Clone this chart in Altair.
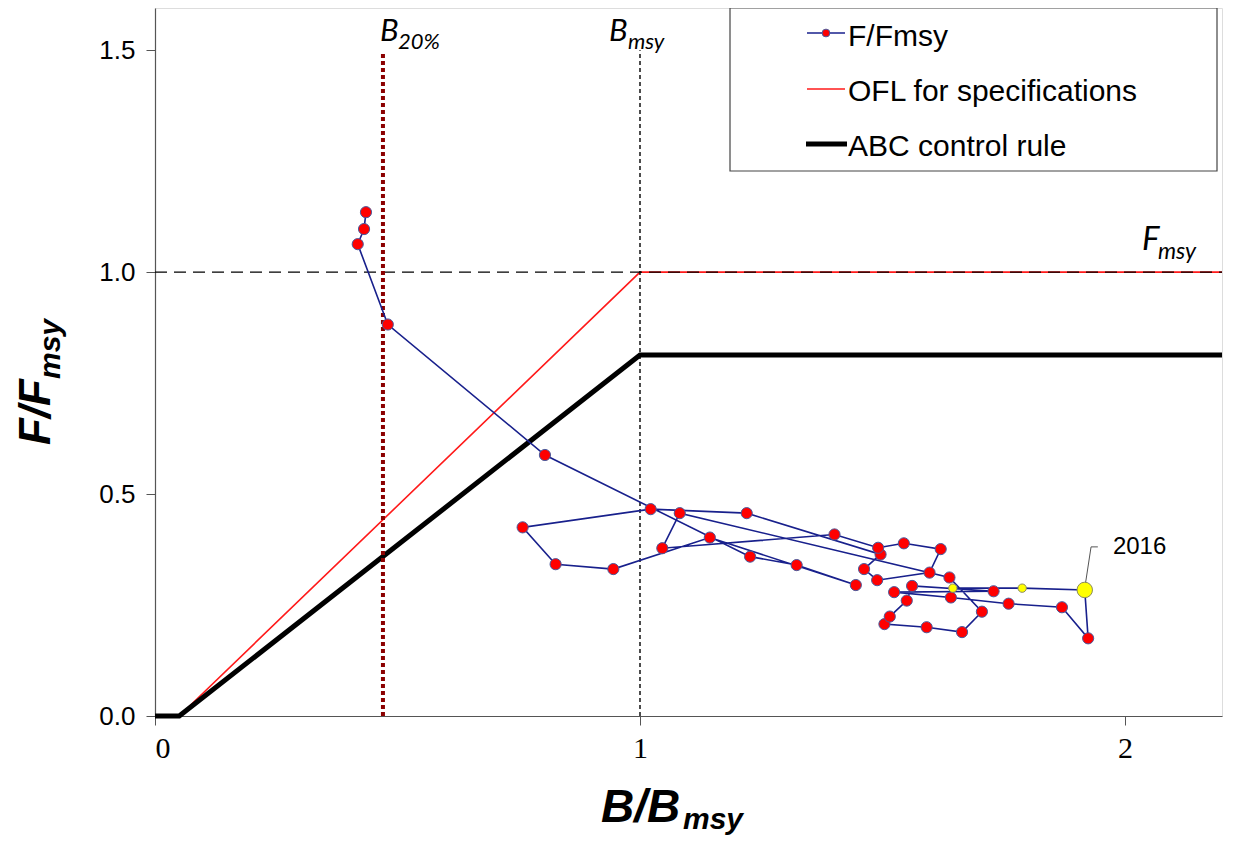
import altair as alt
import pandas as pd

# ---------------- data ----------------
years = list(range(1978, 2019))
b_ratio = [0.435, 0.431, 0.418, 0.480, 0.804, 1.227, 1.323, 1.445, 1.144, 0.945,
           0.826, 0.758, 1.022, 1.220, 1.496, 1.462, 1.489, 1.597, 1.620, 1.544,
           1.491, 1.401, 1.046, 1.082, 1.638, 1.705, 1.664, 1.591, 1.504, 1.515,
           1.550, 1.561, 1.729, 1.524, 1.641, 1.760, 1.870, 1.924, 1.917, 1.788,
           1.645]
f_ratio = [1.135, 1.097, 1.063, 0.882, 0.588, 0.359, 0.340, 0.295, 0.402, 0.331,
           0.342, 0.425, 0.466, 0.457, 0.364, 0.331, 0.306, 0.323, 0.376, 0.389,
           0.379, 0.409, 0.378, 0.457, 0.312, 0.235, 0.189, 0.200, 0.207, 0.224,
           0.260, 0.293, 0.281, 0.279, 0.267, 0.253, 0.245, 0.175, 0.284, 0.288,
           0.288]
kind = ["hist"] * 38 + ["current"] + ["proj"] * 2

ofl_b = [0.0, 0.05, 1.0, 2.2]
ofl_f = [0.0, 0.0, 1.0, 1.0]
abc_b = [0.0, 0.05, 1.0, 2.2]
abc_f = [0.0, 0.0, 0.813, 0.813]

b20 = 0.47
bmsy = 1.0
fmsy = 1.0
x_max = 2.2
y_max = 1.595

leader_b = [1.918, 1.930, 1.944]
leader_f = [0.295, 0.381, 0.381]

traj = pd.DataFrame({"year": years, "B": b_ratio, "F": f_ratio, "kind": kind})
ofl = pd.DataFrame({"B": ofl_b, "F": ofl_f, "i": range(len(ofl_b))})
abc = pd.DataFrame({"B": abc_b, "F": abc_f, "i": range(len(abc_b))})
leader = pd.DataFrame({"B": leader_b, "F": leader_f, "i": range(len(leader_b))})

W, H = 1067, 708

xs = alt.Scale(domain=[0, x_max], nice=False, zero=False)
ys = alt.Scale(domain=[0, y_max], nice=False, zero=False)

x_axis = alt.Axis(values=[0, 1, 2], format="d", title=None, grid=False,
                  labelFont="Liberation Sans Narrow", labelFontSize=30,
                  labelColor="black", tickSize=9, labelPadding=8,
                  domainColor="#555", tickColor="#555", domainWidth=1.2)
y_axis = alt.Axis(values=[0, 0.5, 1.0, 1.5], format=".1f", title=None, grid=False,
                  labelFont="Liberation Sans", labelFontSize=26,
                  labelColor="black", tickSize=9, labelPadding=11,
                  domainColor="#555", tickColor="#555", domainWidth=1.2)

base_x = alt.X("B:Q", scale=xs, axis=x_axis)
base_y = alt.Y("F:Q", scale=ys, axis=y_axis)

ofl_line = alt.Chart(ofl).mark_line(color="#ff1a1a", strokeWidth=1.6).encode(
    x=base_x, y=base_y, order="i:O")
abc_line = alt.Chart(abc).mark_line(color="black", strokeWidth=5).encode(
    x="B:Q", y="F:Q", order="i:O")

one = pd.DataFrame({"v": [0]})

fmsy_rule = alt.Chart(pd.DataFrame({"x1": [0.0], "x2": [x_max], "y": [fmsy]})).mark_rule(
    color="black", strokeWidth=1.4, strokeDash=[12, 7]).encode(
    x=alt.X("x1:Q"), x2="x2:Q", y=alt.Y("y:Q"))
bmsy_rule = alt.Chart(pd.DataFrame({"x": [bmsy], "y1": [0.0], "y2": [1.5]})).mark_rule(
    color="black", strokeWidth=1.4, strokeDash=[4, 3]).encode(
    x="x:Q", y="y1:Q", y2="y2:Q")
b20_rule = alt.Chart(pd.DataFrame({"x": [b20], "y1": [0.0], "y2": [1.495]})).mark_rule(
    color="#8b0000", strokeWidth=4, strokeDash=[4, 3]).encode(
    x="x:Q", y="y1:Q", y2="y2:Q")

traj_line = alt.Chart(traj).mark_line(color="#18208c", strokeWidth=1.6).encode(
    x="B:Q", y="F:Q", order="year:O")
pts_hist = alt.Chart(traj).transform_filter(alt.datum.kind == "hist").mark_point(
    filled=True, opacity=1, fill="#ff0000", stroke="#4a5a9c", strokeWidth=1, size=125,
    shape="circle").encode(x="B:Q", y="F:Q")
pts_cur = alt.Chart(traj).transform_filter(alt.datum.kind == "current").mark_point(
    filled=True, opacity=1, fill="#ffff00", stroke="#8a8a60", strokeWidth=1, size=240,
    shape="circle").encode(x="B:Q", y="F:Q")
pts_proj = alt.Chart(traj).transform_filter(alt.datum.kind == "proj").mark_point(
    filled=True, opacity=1, fill="#ffff00", stroke="#8a8a60", strokeWidth=1, size=70,
    shape="circle").encode(x="B:Q", y="F:Q")

leader_line = alt.Chart(leader).mark_line(color="#555", strokeWidth=1).encode(
    x="B:Q", y="F:Q", order="i:O")
label_2016 = alt.Chart(pd.DataFrame({"B": [1.975], "F": [0.381], "t": ["2016"]})).mark_text(
    align="left", baseline="middle", font="Liberation Sans", fontSize=24, color="black").encode(
    x="B:Q", y="F:Q", text="t:N")

# reference-line labels (main letter + subscript)
ref_labels = pd.DataFrame({
    "B": [0.464, 0.501, 0.936, 0.975, 2.035, 2.068],
    "F": [1.520, 1.503, 1.520, 1.503, 1.050, 1.030],
    "t": ["B", "20%", "B", "msy", "F", "msy"],
    "s": [31, 22, 31, 22, 33, 23],
})
ref_text = alt.Chart(ref_labels).mark_text(
    align="left", baseline="alphabetic", font="Lato", fontStyle="italic", color="black").encode(
    x="B:Q", y="F:Q", text="t:N", size=alt.Size("s:Q", scale=None, legend=None))

# ---------------- legend (drawn in pixel space) ----------------
legend_box = alt.Chart(one).mark_rect(fill="white", stroke="#444", strokeWidth=1.2).encode(
    x=alt.value(575), x2=alt.value(1062), y=alt.value(0), y2=alt.value(163))
leg_l1 = alt.Chart(one).mark_rule(color="#18208c", strokeWidth=1.6).encode(
    x=alt.value(652), x2=alt.value(690), y=alt.value(25))
leg_p1 = alt.Chart(one).mark_point(filled=True, fill="#ff0000", stroke="#4a5a9c",
                                   strokeWidth=1, size=60, opacity=1).encode(
    x=alt.value(671), y=alt.value(25))
leg_l2 = alt.Chart(one).mark_rule(color="#ff1a1a", strokeWidth=1.6).encode(
    x=alt.value(652), x2=alt.value(690), y=alt.value(81))
leg_l3 = alt.Chart(one).mark_rule(color="black", strokeWidth=5).encode(
    x=alt.value(651), x2=alt.value(692), y=alt.value(136))
leg_text = alt.Chart(pd.DataFrame({
    "t": ["F/Fmsy", "OFL for specifications", "ABC control rule"],
    "yy": [38, 93, 148]})).mark_text(
    align="left", baseline="alphabetic", font="Liberation Sans", fontSize=30, color="black").encode(
    x=alt.value(693), y=alt.Y("yy:Q", scale=None), text="t:N")

# ---------------- axis titles (with subscripts) ----------------
xt_main = alt.Chart(one).mark_text(text="B/B", align="left", baseline="alphabetic",
                                   font="Liberation Sans", fontWeight="bold", fontStyle="italic",
                                   fontSize=46, color="black").encode(
    x=alt.value(446), y=alt.value(814))
xt_sub = alt.Chart(one).mark_text(text="msy", align="left", baseline="alphabetic",
                                  font="Liberation Sans", fontWeight="bold", fontStyle="italic",
                                  fontSize=30, color="black").encode(
    x=alt.value(528), y=alt.value(821))
yt_main = alt.Chart(one).mark_text(text="F/F", align="left", baseline="alphabetic", angle=270,
                                   font="Liberation Sans", fontWeight="bold", fontStyle="italic",
                                   fontSize=44, color="black").encode(
    x=alt.value(-105), y=alt.value(437))
yt_sub = alt.Chart(one).mark_text(text="msy", align="left", baseline="alphabetic", angle=270,
                                  font="Liberation Sans", fontWeight="bold", fontStyle="italic",
                                  fontSize=30, color="black").encode(
    x=alt.value(-95), y=alt.value(371))

chart = alt.layer(
    ofl_line, abc_line, fmsy_rule, bmsy_rule, b20_rule,
    traj_line, leader_line, pts_hist, pts_proj, pts_cur, label_2016, ref_text,
    legend_box, leg_l1, leg_p1, leg_l2, leg_l3, leg_text,
    xt_main, xt_sub, yt_main, yt_sub,
).properties(
    width=W, height=H,
    autosize=alt.AutoSizeParams(type="none"),
    padding={"left": 147, "top": 0, "right": 2, "bottom": 123},
).configure_view(stroke=None).configure(background="white")

chart.save("out.html", embed_options={"renderer": "svg", "actions": False})
